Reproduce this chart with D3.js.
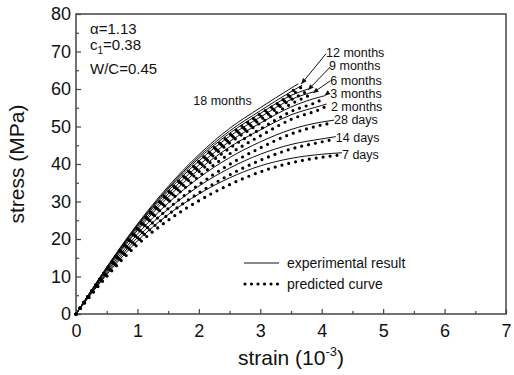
<!DOCTYPE html>
<html lang="en">
<head>
    <meta charset="UTF-8">
    <title>Stress-strain curves</title>
    <style>
        body { margin: 0; background: #fff; }
        svg { font-family: Arial, "Liberation Sans", sans-serif; }
        .frame { fill: none; stroke: #444; stroke-width: 1.5px; }
        .tick line { stroke: #444; stroke-width: 1.2px; }
        .domain { display: none; }
        .exp { fill: none; stroke: #111; stroke-width: 1px; }
        .pred { fill: none; stroke: #000; stroke-width: 3.2px; stroke-linecap: round; stroke-dasharray: 0 7; }
        .lbl { font-size: 12.5px; fill: #111; }
        .leg { font-size: 14px; fill: #111; }
    </style>
</head>
<body>
    <svg id="chart" width="514" height="375"></svg>
    <script src="https://d3js.org/d3.v7.min.js"></script>
    <script>
        const margin = { top: 14, right: 8, bottom: 61, left: 76 };
        const width = 514 - margin.left - margin.right;
        const height = 375 - margin.top - margin.bottom;

        // curves, bottom to top
        const curveNames = ["7 days", "14 days", "28 days", "2 months", "3 months", "6 months", "9 months", "12 months", "18 months"];
        const strainPoints = [0, 0.5, 1, 1.5, 2, 2.5, 3, 3.5];

        const expEnd = [4.33, 4.23, 4.2, 4.08, 4.05, 3.86, 3.78, 3.68, 3.62];
        const expStress = [
            [0, 10.5, 19.5, 26.5, 32.0, 36.3, 39.5, 41.5, 42.6, 43.0],
            [0, 10.9, 20.4, 28.0, 34.1, 38.9, 42.6, 45.2, 46.7, 47.3],
            [0, 11.3, 21.3, 29.6, 36.3, 41.7, 45.9, 49.2, 51.2, 51.7],
            [0, 11.7, 22.3, 31.2, 38.5, 44.5, 49.1, 53.1, 55.6, 56.0],
            [0, 12.0, 22.8, 32.0, 39.7, 46.0, 50.9, 55.2, 58.0, 58.2],
            [0, 12.2, 23.3, 32.8, 40.8, 47.4, 52.5, 57.2, 59.2],
            [0, 12.3, 23.6, 33.3, 41.5, 48.2, 53.5, 58.3, 60.0],
            [0, 12.4, 23.8, 33.6, 42.0, 48.8, 54.2, 59.3, 61.0],
            [0, 12.5, 24.0, 34.0, 42.5, 49.5, 55.0, 60.2, 61.4]
        ];

        const predEnd = [4.3, 4.2, 4.15, 4.06, 4.04, 3.84, 3.76, 3.66, 3.6];
        const predStress = [
            [0, 10.0, 18.5, 25.0, 30.2, 34.5, 37.9, 40.3, 41.8, 42.4],
            [0, 10.4, 19.4, 26.5, 32.3, 37.1, 41.0, 44.0, 45.9, 46.6],
            [0, 10.8, 20.3, 28.1, 34.5, 39.9, 44.3, 48.0, 50.4, 50.9],
            [0, 11.2, 21.3, 29.7, 36.7, 42.7, 47.5, 51.9, 54.8, 55.3],
            [0, 11.5, 21.8, 30.5, 37.9, 44.2, 49.3, 54.0, 57.2, 57.6],
            [0, 11.7, 22.3, 31.3, 39.0, 45.6, 50.9, 56.0, 58.6],
            [0, 11.8, 22.6, 31.8, 39.7, 46.4, 51.8, 57.1, 59.4],
            [0, 11.9, 22.8, 32.1, 40.2, 47.0, 52.6, 58.1, 60.4],
            [0, 12.0, 23.0, 32.5, 40.7, 47.7, 53.4, 59.0, 60.8]
        ];

        // curve labels (baseline start, in data units)
        const labelX = [4.33, 4.23, 4.2, 4.15, 4.14, 4.14, 4.12, 4.07, 1.91];
        const labelY = [41.3, 45.8, 50.7, 54.2, 57.6, 61.1, 65.1, 68.5, 55.7];

        // leader arrows: [from strain, from stress, to strain, to stress]
        const leaders = [
            [4.10, 58.9, 4.05, 58.3],
            [4.14, 62.2, 3.86, 59.0],
            [4.14, 65.9, 3.78, 59.8],
            [4.07, 69.4, 3.67, 61.4]
        ];

        const xTicks = [0, 1, 2, 3, 4, 5, 6, 7];
        const yTicks = [0, 10, 20, 30, 40, 50, 60, 70, 80];

        const svg = d3.select("#chart");
        const g = svg.append("g").attr("transform", `translate(${margin.left},${margin.top})`);

        const x = d3.scaleLinear().domain([0, 7]).range([0, width]);
        const y = d3.scaleLinear().domain([0, 80]).range([height, 0]);

        // minor ticks
        g.append("g")
            .attr("transform", `translate(0,${height})`)
            .call(d3.axisBottom(x).tickValues(d3.range(0.5, 7, 1)).tickSize(-3).tickFormat(""));
        g.append("g")
            .call(d3.axisLeft(y).tickValues(d3.range(5, 80, 10)).tickSize(-3).tickFormat(""));

        // major ticks
        const xAxis = g.append("g")
            .attr("transform", `translate(0,${height})`)
            .call(d3.axisBottom(x).tickValues(xTicks).tickSize(-5).tickPadding(10).tickFormat(d3.format("d")));
        xAxis.selectAll("text").attr("font-size", 18).attr("fill", "#111").attr("dy", "0.71em");

        const yAxis = g.append("g")
            .call(d3.axisLeft(y).tickValues(yTicks).tickSize(-5).tickPadding(5).tickFormat(d3.format("d")));
        yAxis.selectAll("text").attr("font-size", 18).attr("fill", "#111");

        g.append("rect").attr("class", "frame").attr("width", width).attr("height", height);

        const line = d3.line()
            .x(d => x(d[0]))
            .y(d => y(d[1]))
            .curve(d3.curveMonotoneX);

        function pts(values, end) {
            const s = strainPoints.concat(end > 4 ? [4, end] : [end]);
            return values.map((v, i) => [s[i], v]);
        }

        curveNames.forEach((name, i) => {
            g.append("path").attr("class", "exp").attr("d", line(pts(expStress[i], expEnd[i])));
            g.append("path").attr("class", "pred").attr("d", line(pts(predStress[i], predEnd[i])));
        });

        // arrowhead
        svg.append("defs").append("marker")
            .attr("id", "arr")
            .attr("viewBox", "0 0 10 10")
            .attr("refX", 9).attr("refY", 5)
            .attr("markerWidth", 6).attr("markerHeight", 6)
            .attr("orient", "auto")
            .append("path").attr("d", "M0,1L10,5L0,9z").attr("fill", "#111");

        leaders.forEach(l => {
            g.append("line")
                .attr("x1", x(l[0])).attr("y1", y(l[1]))
                .attr("x2", x(l[2])).attr("y2", y(l[3]))
                .attr("stroke", "#111").attr("stroke-width", 1)
                .attr("marker-end", "url(#arr)");
        });

        curveNames.forEach((name, i) => {
            g.append("text").attr("class", "lbl")
                .attr("x", x(labelX[i])).attr("y", y(labelY[i]))
                .text(name);
        });

        // parameter notes
        const notes = g.append("g").attr("font-size", 15).attr("fill", "#111");
        notes.append("text").attr("x", 14).attr("y", 20).text("α=1.13");
        const c1 = notes.append("text").attr("x", 14).attr("y", 36);
        c1.append("tspan").text("c");
        c1.append("tspan").attr("font-size", 10).attr("dy", 4).text("1");
        c1.append("tspan").attr("dy", -4).text("=0.38");
        notes.append("text").attr("x", 14).attr("y", 60).text("W/C=0.45");

        // legend
        const leg = g.append("g").attr("transform", `translate(${width - 262},${height - 51})`);
        leg.append("line").attr("class", "exp").attr("x1", 0).attr("x2", 35).attr("y1", 0).attr("y2", 0);
        leg.append("text").attr("class", "leg").attr("x", 43).attr("y", 5).text("experimental result");
        leg.append("line").attr("class", "pred").attr("x1", 1).attr("x2", 34).attr("y1", 21).attr("y2", 21)
            .style("stroke-dasharray", "0 6.5");
        leg.append("text").attr("class", "leg").attr("x", 43).attr("y", 26).text("predicted curve");

        // axis titles
        const xt = g.append("text")
            .attr("x", width / 2).attr("y", height + 51)
            .attr("text-anchor", "middle").attr("font-size", 21).attr("fill", "#111");
        xt.append("tspan").text("strain (10");
        xt.append("tspan").attr("font-size", 13).attr("dy", -9).text("-3");
        xt.append("tspan").attr("dy", 9).text(")");

        g.append("text")
            .attr("transform", `translate(${-52},${height / 2}) rotate(-90)`)
            .attr("text-anchor", "middle").attr("font-size", 21).attr("fill", "#111")
            .text("stress (MPa)");
    </script>
</body>
</html>
